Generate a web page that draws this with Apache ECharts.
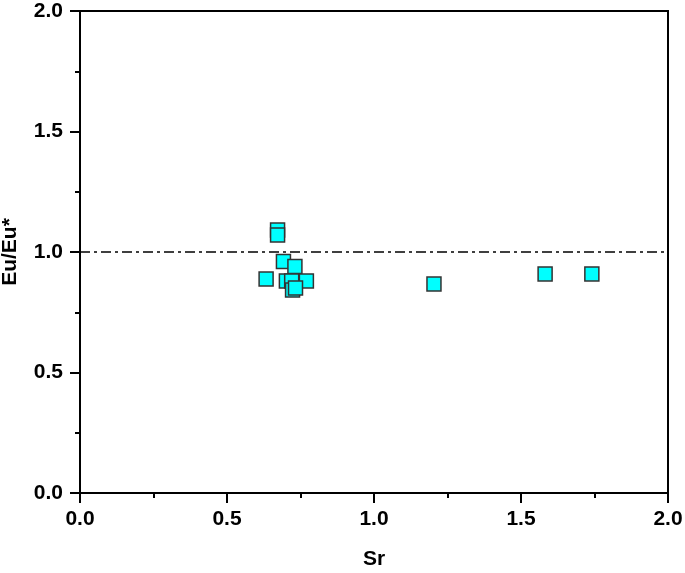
<!DOCTYPE html>
<html>
<head>
<meta charset="utf-8">
<script src="https://cdn.jsdelivr.net/npm/echarts@6/dist/echarts.min.js"></script>
<style>
  html, body { margin: 0; padding: 0; background: #fff; }
  #chart { width: 685px; height: 573px; }
</style>
</head>
<body>
<div id="chart"></div>
<script>
// Sr vs Eu/Eu* samples
const srValues = [0.633, 0.672, 0.672, 0.692, 0.731, 0.702, 0.720, 0.770, 0.723, 0.733, 1.204, 1.582, 1.741];
const euValues = [0.888, 1.091, 1.071, 0.961, 0.940, 0.880, 0.880, 0.880, 0.842, 0.851, 0.867, 0.909, 0.909];
// reference line Eu/Eu* = 1
const refX = [0, 2];
const refY = [1, 1];

const font = 'Liberation Sans, Arial, sans-serif';

const chart = echarts.init(document.getElementById('chart'));
chart.setOption({
    animation: false,
    grid: {
        left: 80, right: 17, top: 11, bottom: 80,
        outerBoundsMode: 'none', containLabel: false,
        show: true, borderColor: '#000', borderWidth: 2
    },
    xAxis: {
        type: 'value', min: 0, max: 2, interval: 0.5,
        name: 'Sr', nameLocation: 'middle', nameGap: 56,
        nameTextStyle: { color: '#000', fontSize: 21, fontWeight: 'bold', fontFamily: font },
        axisLine: { show: true, onZero: false, lineStyle: { color: '#000', width: 2 } },
        axisTick: { show: true, inside: false, length: 10, lineStyle: { color: '#000', width: 2 } },
        minorTick: { show: true, splitNumber: 2, length: 5, lineStyle: { color: '#000', width: 2 } },
        axisLabel: {
            color: '#000', fontSize: 21, fontWeight: 'bold', fontFamily: font, margin: 16,
            formatter: v => v.toFixed(1)
        },
        splitLine: { show: false }
    },
    yAxis: {
        type: 'value', min: 0, max: 2, interval: 0.5,
        name: 'Eu/Eu*', nameLocation: 'middle', nameGap: 59,
        nameTextStyle: { color: '#000', fontSize: 21, fontWeight: 'bold', fontFamily: font },
        axisLine: { show: true, onZero: false, lineStyle: { color: '#000', width: 2 } },
        axisTick: { show: true, inside: false, length: 10, lineStyle: { color: '#000', width: 2 } },
        minorTick: { show: true, splitNumber: 2, length: 5, lineStyle: { color: '#000', width: 2 } },
        axisLabel: {
            color: '#000', fontSize: 21, fontWeight: 'bold', fontFamily: font, margin: 17,
            formatter: v => v.toFixed(1)
        },
        splitLine: { show: false }
    },
    series: [
        {
            type: 'line',
            data: refX.map((x, i) => [x, refY[i]]),
            symbol: 'none',
            lineStyle: { color: '#000', width: 1.5, type: [10, 4, 3, 4] },
            z: 1
        },
        {
            type: 'scatter',
            data: srValues.map((x, i) => [x, euValues[i]]),
            symbol: 'rect',
            symbolSize: 14,
            itemStyle: { color: '#00FFFF', borderColor: '#333', borderWidth: 1.5, opacity: 1 },
            z: 3
        }
    ]
});
</script>
</body>
</html>
